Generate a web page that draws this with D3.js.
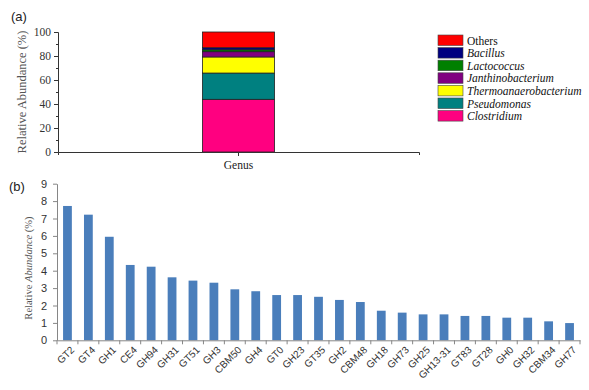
<!DOCTYPE html>
<html>
<head>
<meta charset="utf-8">
<script src="https://cdn.jsdelivr.net/npm/d3@7"></script>
<style>
  body { margin: 0; background: #fff; }
  svg { display: block; }
</style>
</head>
<body>
<div id="chart"></div>
<script>
// panel (a): genus composition, stacked bottom to top
const genera = ['Clostridium', 'Pseudomonas', 'Thermoanaerobacterium', 'Janthinobacterium', 'Lactococcus', 'Bacillus', 'Others'];
const generaShare = [43.9, 21.9, 13.4, 4.4, 1.6, 1.7, 13.1];
const generaColors = ['#ff0080', '#008080', '#ffff00', '#800080', '#008000', '#000080', '#ff0000'];
const topTicks = [0, 20, 40, 60, 80, 100];

// panel (b): gene families
const families = ['GT2', 'GT4', 'GH1', 'CE4', 'GH94', 'GH31', 'GT51', 'GH3', 'CBM50', 'GH4', 'GT0', 'GH23', 'GT35',
  'GH2', 'CBM48', 'GH18', 'GH73', 'GH25', 'GH13-31', 'GT83', 'GT28', 'GH0', 'GH32', 'CBM34', 'GH77'];
const familyAbundance = [7.72, 7.22, 5.95, 4.33, 4.23, 3.62, 3.43, 3.31, 2.93, 2.82, 2.6, 2.6, 2.5,
  2.32, 2.2, 1.7, 1.59, 1.49, 1.49, 1.4, 1.4, 1.3, 1.3, 1.09, 0.99];
const bottomTicks = [0, 1, 2, 3, 4, 5, 6, 7, 8, 9];

const W = 589, H = 390;
const serif = '"Liberation Serif", "DejaVu Serif", serif';
const sans = '"Liberation Sans", Arial, sans-serif';

const svg = d3.select('#chart').append('svg')
  .attr('width', W)
  .attr('height', H);

// ---------- (a) ----------
const a = { left: 58, right: 419, top: 32, bottom: 152 };

svg.append('text')
  .attr('x', 11).attr('y', 21)
  .attr('font-family', sans).attr('font-size', 13).attr('fill', '#222')
  .text('(a)');

const yA = d3.scaleLinear().domain([0, 100]).range([a.bottom, a.top]);
const xA = d3.scaleBand().domain(['Genus']).range([a.left, a.right]).paddingOuter(2);

const stack = [];
let acc = 0;
genera.forEach((g, i) => {
  stack.push({ name: g, y0: acc, y1: acc + generaShare[i], color: generaColors[i] });
  acc += generaShare[i];
});

const gA = svg.append('g');

gA.selectAll('.seg')
  .data(stack)
  .enter().append('rect')
  .attr('class', 'seg')
  .attr('x', xA('Genus'))
  .attr('width', xA.bandwidth())
  .attr('y', d => yA(d.y1))
  .attr('height', d => yA(d.y0) - yA(d.y1))
  .attr('fill', d => d.color)
  .attr('stroke', '#222')
  .attr('stroke-width', 0.8);

const yAxisA = gA.append('g')
  .attr('transform', `translate(${a.left},0)`)
  .call(d3.axisLeft(yA).tickValues(topTicks).tickSize(4).tickPadding(3));
yAxisA.selectAll('.tick line').attr('stroke', '#333');
yAxisA.select('.domain').attr('stroke', '#333');
yAxisA.selectAll('text').attr('font-family', serif).attr('font-size', 11.5).attr('fill', '#333');

// minor ticks at the tens
gA.append('g')
  .attr('transform', `translate(${a.left},0)`)
  .call(d3.axisLeft(yA).tickValues([10, 30, 50, 70, 90]).tickSize(2).tickFormat(''))
  .call(g => g.select('.domain').remove())
  .selectAll('line').attr('stroke', '#333');

const xAxisA = gA.append('g')
  .attr('transform', `translate(0,${a.bottom})`)
  .call(d3.axisBottom(xA).tickSize(4).tickPadding(5).tickSizeOuter(3));
xAxisA.select('.domain').attr('stroke', '#333');
xAxisA.selectAll('.tick line').attr('stroke', '#333');
xAxisA.selectAll('text').attr('font-family', serif).attr('font-size', 11.5).attr('fill', '#222');

gA.append('text')
  .attr('transform', 'rotate(-90)')
  .attr('x', -(a.top + a.bottom) / 2)
  .attr('y', 26)
  .attr('text-anchor', 'middle')
  .attr('font-family', serif).attr('font-size', 12.5).attr('fill', '#555')
  .text('Relative Abundance (%)');

// legend, top row = last stacked segment
const legend = gA.append('g').attr('transform', 'translate(438,35)');
const legendRows = stack.slice().reverse();
const lg = legend.selectAll('.lg')
  .data(legendRows)
  .enter().append('g')
  .attr('transform', (d, i) => `translate(0,${i * 12.6})`);
lg.append('rect')
  .attr('width', 25).attr('height', 10.5)
  .attr('fill', d => d.color)
  .attr('stroke', '#444').attr('stroke-width', 0.6);
lg.append('text')
  .attr('x', 29).attr('y', 9.5)
  .attr('font-family', serif).attr('font-size', 11.5).attr('fill', '#111')
  .attr('font-style', d => d.name === 'Others' ? 'normal' : 'italic')
  .text(d => d.name);

// ---------- (b) ----------
const b = { left: 57, right: 580, top: 183.7, bottom: 340.3 };

svg.append('text')
  .attr('x', 9).attr('y', 191)
  .attr('font-family', sans).attr('font-size', 13).attr('fill', '#222')
  .text('(b)');

const yB = d3.scaleLinear().domain([0, 9]).range([b.bottom, b.top]);
const xB = d3.scaleBand().domain(families).range([b.left, b.right])
  .paddingInner(0.58).paddingOuter(0.29);

const gB = svg.append('g');

gB.selectAll('.bar')
  .data(families.map((f, i) => ({ name: f, value: familyAbundance[i] })))
  .enter().append('rect')
  .attr('class', 'bar')
  .attr('x', d => xB(d.name))
  .attr('width', xB.bandwidth())
  .attr('y', d => yB(d.value))
  .attr('height', d => yB(0) - yB(d.value))
  .attr('fill', '#4a7ebb');

const yAxisB = gB.append('g')
  .attr('transform', `translate(${b.left},0)`)
  .call(d3.axisLeft(yB).tickValues(bottomTicks).tickSize(4).tickPadding(6).tickSizeOuter(0));
yAxisB.select('.domain').attr('stroke', '#868686');
yAxisB.selectAll('.tick line').attr('stroke', '#868686');
yAxisB.selectAll('text').attr('font-family', sans).attr('font-size', 11).attr('fill', '#333');

const xAxisB = gB.append('g')
  .attr('transform', `translate(0,${b.bottom})`)
  .call(d3.axisBottom(xB).tickSize(0).tickPadding(0).tickSizeOuter(0));
xAxisB.select('.domain').attr('stroke', '#868686');
xAxisB.selectAll('.tick line').remove();
xAxisB.selectAll('text')
  .attr('font-family', sans).attr('font-size', 10).attr('fill', '#333')
  .attr('text-anchor', 'end')
  .attr('dx', '0.3em').attr('dy', '0.9em')
  .attr('transform', 'translate(-1,6) rotate(-45)');

// tick marks between categories
const step = xB.step();
const boundaries = d3.range(families.length + 1).map(i => b.left + i * step);
gB.selectAll('.sep')
  .data(boundaries)
  .enter().append('line')
  .attr('x1', d => d).attr('x2', d => d)
  .attr('y1', b.bottom).attr('y2', b.bottom + 4)
  .attr('stroke', '#868686');

const yTitle = gB.append('text')
  .attr('transform', 'rotate(-90)')
  .attr('x', -268)
  .attr('y', 32)
  .attr('text-anchor', 'middle')
  .attr('font-family', serif).attr('font-size', 10.5).attr('fill', '#555');
yTitle.append('tspan').text('Relative ');
yTitle.append('tspan').attr('font-style', 'italic').text('Abundance');
yTitle.append('tspan').text(' (%)');
</script>
</body>
</html>
